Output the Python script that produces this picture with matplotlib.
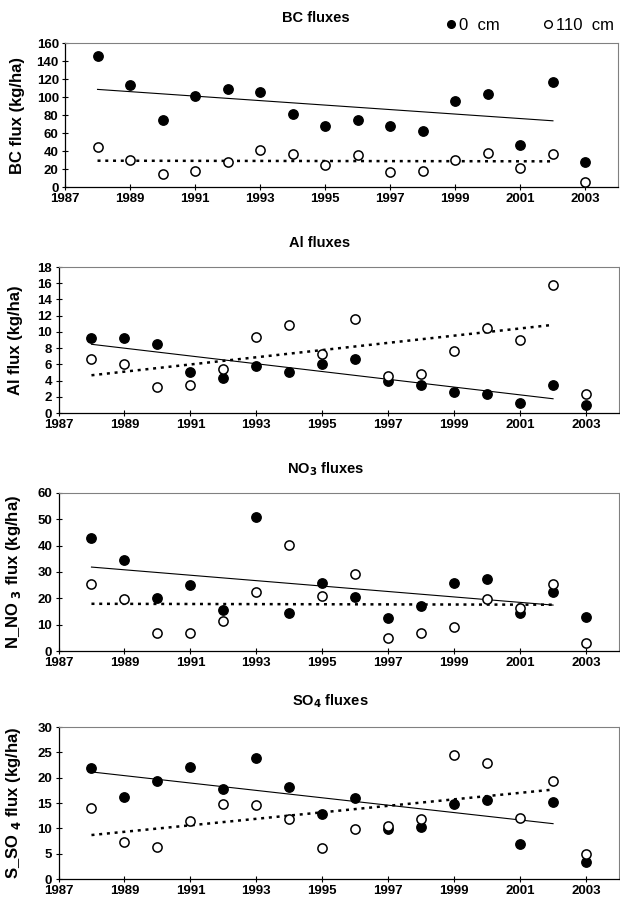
import numpy as np
import matplotlib
matplotlib.use("Agg")
import matplotlib.pyplot as plt
from matplotlib.lines import Line2D

plt.rcParams["font.family"] = ["Liberation Sans", "DejaVu Sans"]

# data
years = list(range(1988, 2004))
bc_0 = [146, 113, 74, 101, 109, 106, 81, 68, 74, 68, 62, 96, 103, 47, 117, 28]
bc_110 = [44, 30, 14, 18, 28, 41, 37, 24, 36, 17, 18, 30, 38, 21, 37, 6]
al_0 = [9.3, 9.2, 8.5, 5.0, 4.3, 5.8, 5.0, 6.1, 6.6, 3.9, 3.4, 2.6, 2.4, 1.2, 3.4, 1.0]
al_110 = [6.7, 6.0, 3.2, 3.5, 5.4, 9.4, 10.9, 7.3, 11.6, 4.6, 4.8, 7.7, 10.5, 9.0, 15.8, 2.3]
no3_0 = [42.9, 34.5, 20.2, 24.9, 15.5, 50.8, 14.5, 25.9, 20.6, 12.6, 17.2, 25.9, 27.5, 14.3, 22.5, 12.8]
no3_110 = [25.6, 19.8, 6.9, 6.9, 11.4, 22.4, 40.3, 21.0, 29.3, 4.9, 6.9, 9.3, 19.8, 16.2, 25.6, 3.2]
so4_0 = [21.9, 16.2, 19.3, 22.2, 17.7, 23.8, 18.1, 12.8, 16.0, 9.8, 10.2, 14.9, 15.5, 6.9, 15.1, 3.3]
so4_110 = [14.1, 7.3, 6.3, 11.4, 14.9, 14.7, 11.9, 6.1, 9.9, 10.5, 11.8, 24.4, 22.8, 12.0, 19.3, 5.0]

titles = ["BC fluxes", "Al fluxes", r"NO$_\mathbf{3}$ fluxes", r"SO$_\mathbf{4}$ fluxes"]
ylabels = ["BC flux (kg/ha)", "Al flux (kg/ha)",
           r"N_NO $_\mathbf{3}$ flux (kg/ha)", r"S_SO $_\mathbf{4}$ flux (kg/ha)"]
series = [(bc_0, bc_110), (al_0, al_110), (no3_0, no3_110), (so4_0, so4_110)]
ymax = [160, 18, 60, 30]
ystep = [20, 2, 10, 5]
xticks = list(range(1987, 2004, 2))

W, H = 620, 902
# axes boxes in pixels: left, right, top, bottom
boxes = [(65, 618, 43, 187), (58.5, 619, 267, 413), (58.5, 619, 493, 651), (58.5, 619, 727, 879)]
title_pos = [(316, 18), (320, 243), (326, 469), (330, 701)]
ylab_x = [18, 16, 14, 14]

fig = plt.figure(figsize=(W / 100, H / 100), dpi=100)

yrs = np.array(years)
fit_mask = yrs <= 2002  # trend lines only span 1988-2002

for i in range(4):
    l, r, t, b = boxes[i]
    ax = fig.add_axes([l / W, 1 - b / H, (r - l) / W, (b - t) / H])
    d0, d110 = series[i]

    ax.scatter(years, d0, s=46, color="black", zorder=3)
    ax.scatter(years, d110, s=44, facecolor="white", edgecolor="black", linewidth=1.1, zorder=3)

    c0 = np.polyfit(yrs[fit_mask], np.array(d0)[fit_mask], 1)
    c1 = np.polyfit(yrs[fit_mask], np.array(d110)[fit_mask], 1)
    xf = yrs[fit_mask][[0, -1]]
    ax.plot(xf, np.polyval(c0, xf), color="black", lw=0.8, zorder=2)
    ax.plot(xf, np.polyval(c1, xf), color="black", lw=1.8, linestyle=(0, (1.2, 1.9)), zorder=2)

    ax.set_xlim(1987, 2004)
    ax.set_ylim(0, ymax[i])
    ax.set_xticks(xticks)
    ax.set_yticks(np.arange(0, ymax[i] + 0.1, ystep[i]))
    ax.tick_params(direction="inout", length=5, width=0.8, labelsize=9.5, pad=2)
    for lab in ax.get_xticklabels() + ax.get_yticklabels():
        lab.set_fontweight("bold")
    for s in ["top", "right"]:
        ax.spines[s].set_color("#808080")
    for s in ["left", "bottom"]:
        ax.spines[s].set_linewidth(0.9)

    fig.text(title_pos[i][0] / W, 1 - title_pos[i][1] / H, titles[i],
             ha="center", va="center", fontsize=10.5, fontweight="bold")
    fig.text(ylab_x[i] / W, 1 - (t + b) / 2 / H, ylabels[i], rotation=90,
             ha="center", va="center", fontsize=12, fontweight="bold")

handles = [Line2D([], [], marker="o", linestyle="none", markersize=5.5,
                  markerfacecolor="black", markeredgecolor="black"),
           Line2D([], [], marker="o", linestyle="none", markersize=5.5,
                  markerfacecolor="white", markeredgecolor="black")]
fig.legend(handles, ["0  cm", "110  cm"], ncol=2, frameon=False, loc="center",
           bbox_to_anchor=(530 / W, 1 - 25 / H), fontsize=12,
           handlelength=0.6, handletextpad=0.15, columnspacing=2.6)

fig.savefig("out.png", dpi=100)
